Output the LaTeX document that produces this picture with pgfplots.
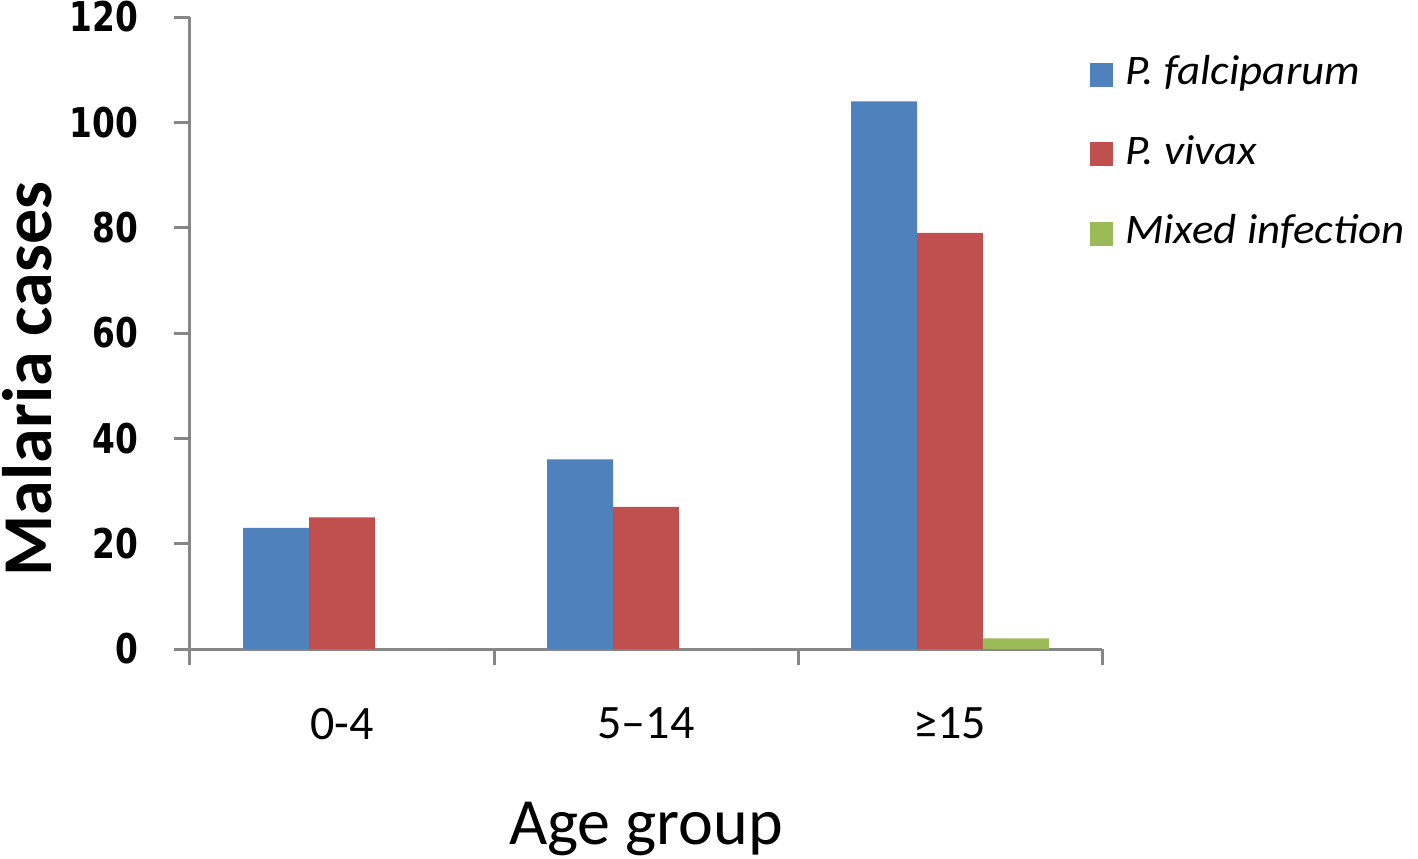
\documentclass[border=0pt]{standalone}
\usepackage{pgfplots}
\pgfplotsset{compat=1.18}
\usepackage{fontspec}
\setmainfont{Carlito}
\newfontfamily\vfont{DejaVu Sans}[FakeStretch=0.8]
\newfontfamily\legfont{Carlito}[FakeStretch=1.07]
\definecolor{cblue}{HTML}{4F81BD}
\definecolor{cred}{HTML}{C0504D}
\definecolor{cgreen}{HTML}{9BBB59}
\definecolor{axgray}{HTML}{868686}
\begin{document}
\begin{tikzpicture}
\useasboundingbox (-95pt,-104.5pt) rectangle (614pt,324.5pt);
\begin{axis}[
  at={(0,0)}, anchor=south west,
  scale only axis, width=456pt, height=316pt,
  xmin=-0.5, xmax=2.5, ymin=0, ymax=120,
  axis x line=bottom, axis y line=left,
  axis line style={-, axgray, line width=1.5pt},
  tick align=outside,
  major tick length=8pt,
  tick style={axgray, line width=1.5pt},
  ytick={0,20,40,60,80,100,120},
  xtick={-0.5,0.5,1.5,2.5},
  xticklabels={},
  extra x ticks={0,1,2},
  extra x tick labels={0-4,5–14,≥15},
  extra x tick style={major tick length=0pt, tick style={draw=none},
    xticklabel style={font=\fontsize{24}{28}\selectfont, yshift=-26pt}},
  /pgf/number format/assume math mode=true,
  yticklabel style={font=\vfont\bfseries\fontsize{20.5}{24}\selectfont, xshift=-14.5pt},
  xlabel={Age group},
  xlabel style={at={(rel axis cs:0.5,-0.2846)}, anchor=center, font=\fontsize{33}{38}\selectfont},
  ylabel={Malaria cases},
  ylabel style={at={(rel axis cs:-0.179,0.427)}, anchor=center, font=\bfseries\fontsize{35}{40}\selectfont},
  bar width=0.217,
  legend style={draw=none, fill=none, inner sep=0pt, at={(rel axis cs:0.9865,0.944)}, anchor=north west,
    font=\legfont\itshape\fontsize{21}{25}\selectfont, row sep=17.8pt,
    nodes={text height=14pt, text depth=4pt}},
  legend cell align=left,
  legend image code/.code={\fill[#1] (0pt,-6pt) rectangle (11.5pt,6pt); \path (15.5pt,0pt);},
]
\addplot[ybar, fill=cblue, draw=none, bar shift=-0.217] coordinates {(0,23) (1,36) (2,104)};
\addplot[ybar, fill=cred, draw=none, bar shift=0] coordinates {(0,25) (1,27) (2,79)};
\addplot[ybar, fill=cgreen, draw=none, bar shift=0.217] coordinates {(0,0) (1,0) (2,2)};
\legend{P. falciparum, P. vivax, Mixed infection}
\end{axis}
\end{tikzpicture}
\end{document}
